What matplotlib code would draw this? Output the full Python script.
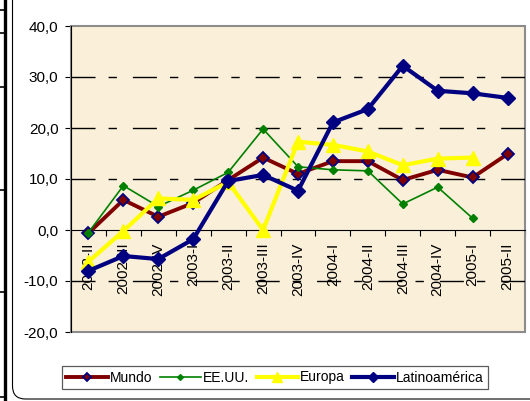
import matplotlib
matplotlib.use("Agg")
import matplotlib.pyplot as plt
from matplotlib.patches import FancyBboxPatch, Rectangle
from matplotlib.lines import Line2D
from matplotlib.transforms import IdentityTransform

plt.rcParams['font.family'] = ['Liberation Sans', 'DejaVu Sans']

quarters = ['2002-II', '2002-III', '2002-IV', '2003-I', '2003-II', '2003-III', '2003-IV',
            '2004-I', '2004-II', '2004-III', '2004-IV', '2005-I', '2005-II']
mundo = [-0.6, 5.9, 2.6, 5.3, 9.8, 14.2, 11.0, 13.5, 13.5, 9.8, 11.8, 10.3, 14.9]
eeuu = [-0.5, 8.7, 4.6, 7.8, 11.3, 19.8, 12.4, 11.8, 11.6, 5.1, 8.4, 2.3, None]
europa = [-6.2, -0.2, 6.2, 5.9, 9.4, 0.0, 17.3, 16.7, 15.4, 12.7, 14.0, 14.2, None]
latino = [-8.0, -5.1, -5.7, -1.8, 9.6, 10.8, 7.7, 21.1, 23.7, 32.2, 27.3, 26.8, 25.9]
yticks = [-20, -10, 0, 10, 20, 30, 40]
ylabels = ['-20,0', '-10,0', '0,0', '10,0', '20,0', '30,0', '40,0']

fig = plt.figure(figsize=(5.30, 4.01), dpi=100)
ax = fig.add_axes([71 / 530, 1 - 332 / 401, 454 / 530, 306 / 401])
ax.set_facecolor('#FAEFD9')
ax.set_axisbelow(True)

x = list(range(len(quarters)))


def clean(vals):
    return [float('nan') if v is None else v for v in vals]


ax.plot(x, mundo, color='#800000', lw=2.8, marker='D', ms=6.2,
        mfc='#800000', mec='#000080', mew=1.3, label='Mundo', zorder=3)
ax.plot(x, clean(eeuu), color='#008000', lw=1.2, marker='D', ms=4.2,
        mfc='#008000', mec='#008000', label='EE.UU.', zorder=3)
ax.plot(x, clean(europa), color='#FFFF00', lw=3, marker='^', ms=10,
        mfc='#FFFF00', mec='#FFFF00', label='Europa', zorder=3)
ax.plot(x, latino, color='#000080', lw=3, marker='D', ms=7,
        mfc='#000080', mec='#000080', label='Latinoamérica', zorder=3)

ax.set_xlim(-0.5, len(quarters) - 0.5)
ax.set_ylim(-20, 40)

# gridlines (long dash, short dash)
for yv in [-10, 10, 20, 30]:
    ax.axhline(yv, color='black', lw=1.0, linestyle=(0, (17.3, 9.4, 6, 11.5)), zorder=1)

ax.set_yticks(yticks)
ax.set_yticklabels(ylabels)
ax.tick_params(axis='y', direction='out', length=4, width=0.8, pad=5, labelsize=11)

# x axis at zero: boundary ticks + centered labels
ax.spines['bottom'].set_position(('data', 0))
ax.set_xticks([i - 0.5 for i in range(len(quarters) + 1)])
ax.set_xticklabels([])
ax.set_xticks(x, minor=True)
ax.set_xticklabels(quarters, minor=True, rotation=90)
ax.tick_params(axis='x', which='major', direction='out', length=4, width=0.8)
ax.tick_params(axis='x', which='minor', length=0, pad=9, labelsize=11)

for s in ['top', 'right']:
    ax.spines[s].set_visible(False)
ax.spines['left'].set_color('black')
ax.spines['bottom'].set_color('black')
ax.add_patch(Rectangle((0, 0), 1, 1, transform=ax.transAxes, fill=False,
                       edgecolor='#8C8C8C', lw=1.5, zorder=0.6, clip_on=False))

leg = ax.legend(loc='center', bbox_to_anchor=(275 / 530, 1 - 377.5 / 401),
                bbox_transform=fig.transFigure, ncol=4, fontsize=10,
                frameon=True, fancybox=False, edgecolor='#333333',
                handlelength=3.0, handletextpad=0.15, columnspacing=0.5,
                borderpad=0.3, borderaxespad=0, markerscale=0.7)
leg.get_frame().set_linewidth(0.9)

# outer chart border and page frame bits
fig.patches.append(FancyBboxPatch((12.5, 2), 540, 430, boxstyle='round,pad=0,rounding_size=13',
                                  transform=IdentityTransform(), fill=False,
                                  edgecolor='black', lw=0.8))
fig.lines.append(Line2D([4.5, 4.5], [0, 401], transform=IdentityTransform(),
                        color='black', lw=2.4))
for yp in [10, 33, 87, 190, 292, 397]:
    fig.lines.append(Line2D([0, 4.5], [401 - yp, 401 - yp], transform=IdentityTransform(),
                            color='black', lw=1.2))

fig.savefig('out.png', dpi=100)
